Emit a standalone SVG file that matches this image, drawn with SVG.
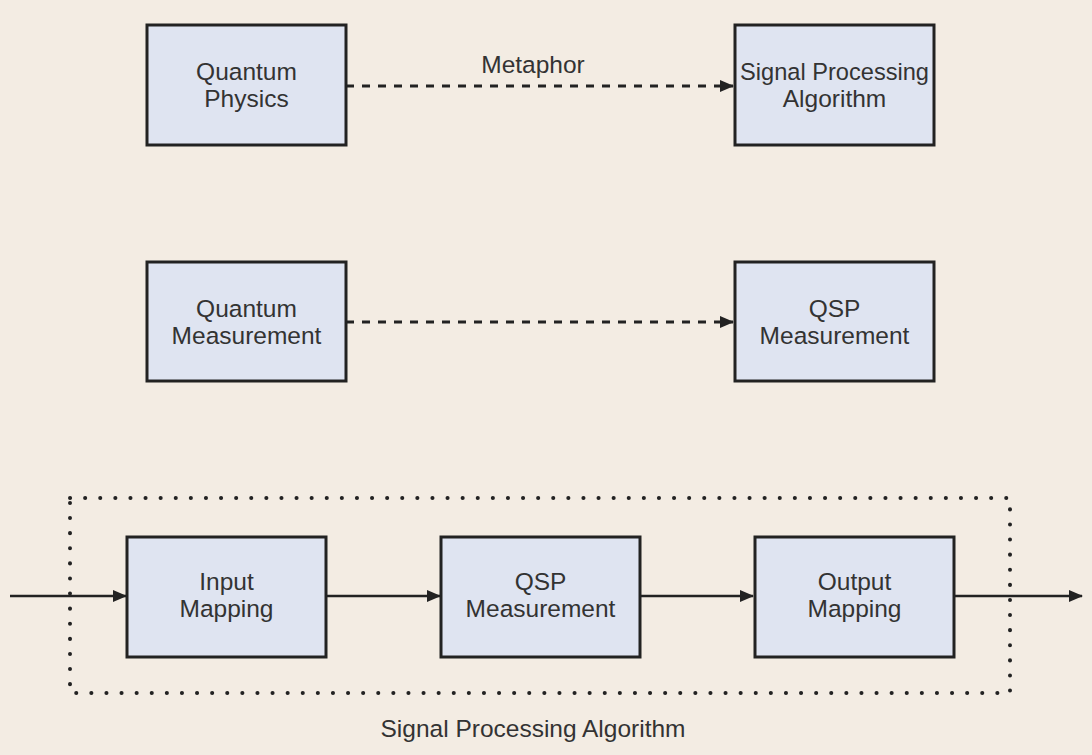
<svg xmlns="http://www.w3.org/2000/svg" width="1092" height="755" viewBox="0 0 1092 755">
<style>
.box{fill:#dfe4f1;stroke:#222;stroke-width:3}
.t{font-family:"Liberation Sans",Arial,sans-serif;font-size:24.5px;fill:#333;text-anchor:middle}
.dash{stroke:#222;stroke-width:3;stroke-dasharray:8 8;fill:none}
.solid{stroke:#222;stroke-width:2.5;fill:none}
.dots{stroke:#222;stroke-width:4;stroke-dasharray:0.1 15;stroke-linecap:round;fill:none}
</style>
<defs>
<marker id="ah" markerWidth="14" markerHeight="12" refX="13" refY="6" orient="auto" markerUnits="userSpaceOnUse">
<path d="M0,0 L14,6 L0,12 Z" fill="#222"/>
</marker>
</defs>
<rect width="1092" height="755" fill="#f3ece3"/>
<g id="group-boundary">
<rect x="70" y="498" width="940" height="195" class="dots"/>
<text class="t" x="533" y="737">Signal Processing Algorithm</text>
</g>
<g id="connectors">
<line x1="346" y1="86" x2="733" y2="86" class="dash" marker-end="url(#ah)"/>
<text class="t" x="533" y="73">Metaphor</text>
<line x1="346" y1="322" x2="733" y2="322" class="dash" marker-end="url(#ah)"/>
<line x1="10" y1="596" x2="126" y2="596" class="solid" marker-end="url(#ah)"/>
<line x1="326" y1="596" x2="440" y2="596" class="solid" marker-end="url(#ah)"/>
<line x1="640" y1="596" x2="753" y2="596" class="solid" marker-end="url(#ah)"/>
<line x1="954" y1="596" x2="1082" y2="596" class="solid" marker-end="url(#ah)"/>
</g>
<g id="quantum-physics">
<rect x="147" y="25" width="199" height="120" class="box"/>
<text class="t" x="246.5" y="80">Quantum</text>
<text class="t" x="246.5" y="107">Physics</text>
</g>
<g id="signal-processing-algorithm">
<rect x="735" y="25" width="199" height="120" class="box"/>
<text class="t" x="834.5" y="80" textLength="189" lengthAdjust="spacingAndGlyphs">Signal Processing</text>
<text class="t" x="834.5" y="107">Algorithm</text>
</g>
<g id="quantum-measurement">
<rect x="147" y="262" width="199" height="119" class="box"/>
<text class="t" x="246.5" y="317">Quantum</text>
<text class="t" x="246.5" y="344">Measurement</text>
</g>
<g id="qsp-measurement-top">
<rect x="735" y="262" width="199" height="119" class="box"/>
<text class="t" x="834.5" y="317">QSP</text>
<text class="t" x="834.5" y="344">Measurement</text>
</g>
<g id="input-mapping">
<rect x="127" y="537" width="199" height="120" class="box"/>
<text class="t" x="226.5" y="590">Input</text>
<text class="t" x="226.5" y="617">Mapping</text>
</g>
<g id="qsp-measurement">
<rect x="441" y="537" width="199" height="120" class="box"/>
<text class="t" x="540.5" y="590">QSP</text>
<text class="t" x="540.5" y="617">Measurement</text>
</g>
<g id="output-mapping">
<rect x="755" y="537" width="199" height="120" class="box"/>
<text class="t" x="854.5" y="590">Output</text>
<text class="t" x="854.5" y="617">Mapping</text>
</g>
</svg>
